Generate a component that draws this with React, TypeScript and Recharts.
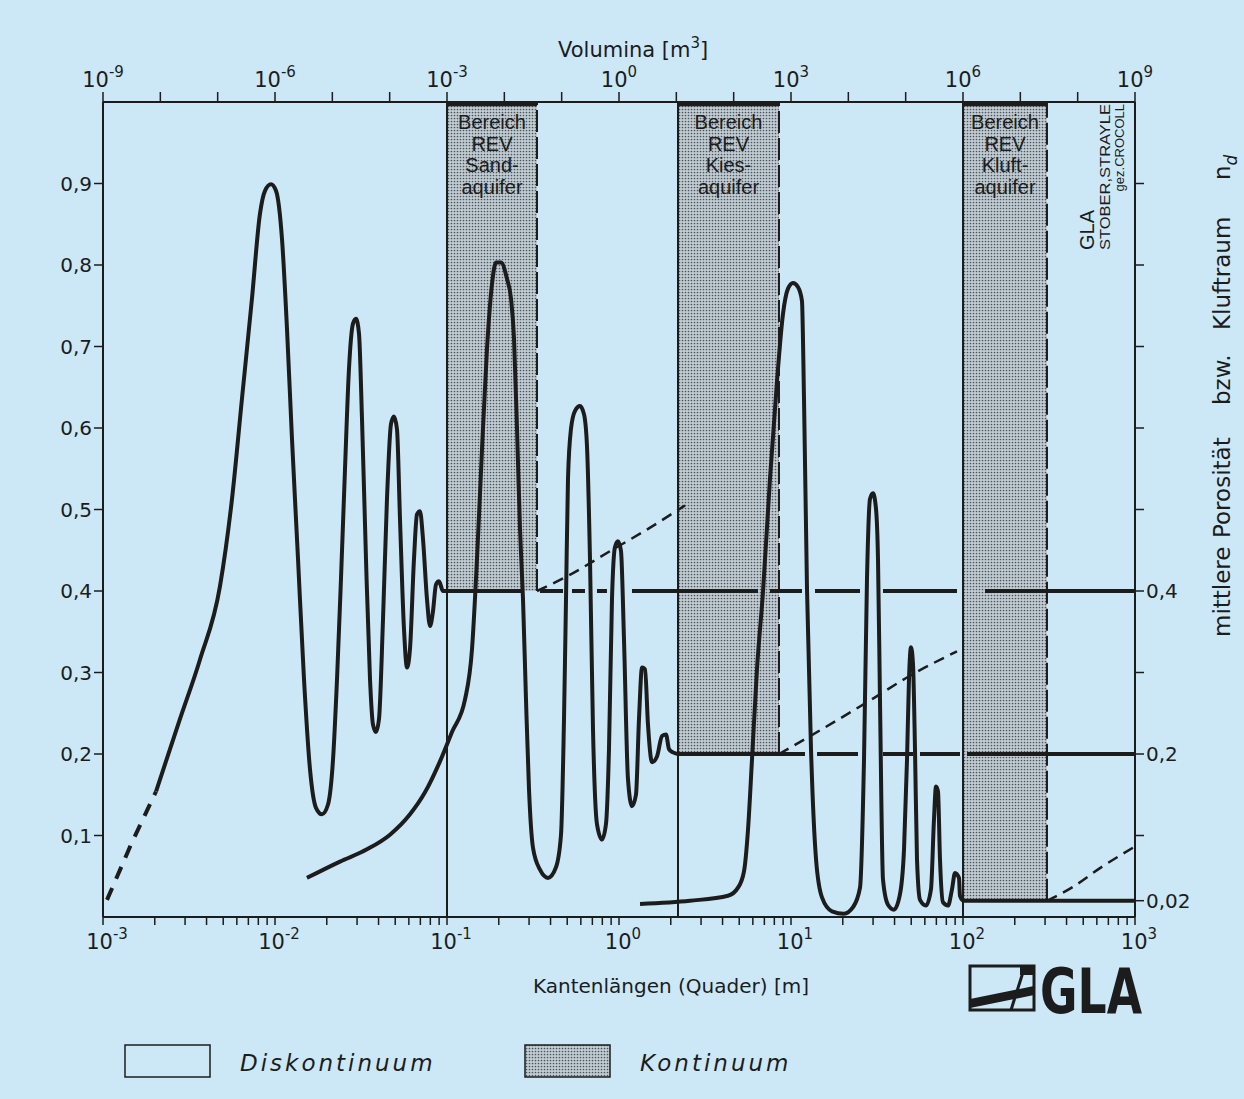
import React from "react";
import { LineChart, Line, XAxis, YAxis, ReferenceArea, ReferenceLine } from "recharts";

const BG = "#cce8f7";
const INK = "#1c1c1c";
const FONT = "'DejaVu Sans', sans-serif";
const NARROW = "'Liberation Sans', 'DejaVu Sans', sans-serif";

// ---- data: Kantenlänge L [m] vs. mittlere Porosität v ----
const leadInDashed = [
  { L: 0.001055, v: 0.021 },
  { L: 0.001455, v: 0.089 },
  { L: 0.002033, v: 0.154 },
];

const sandCurve = [
  { L: 0.002033, v: 0.154 }, { L: 0.002803, v: 0.243 }, { L: 0.003664, v: 0.316 },
  { L: 0.004789, v: 0.406 }, { L: 0.005623, v: 0.513 }, { L: 0.006427, v: 0.636 },
  { L: 0.007348, v: 0.759 }, { L: 0.008179, v: 0.863 }, { L: 0.008745, v: 0.891 },
  { L: 0.009478, v: 0.899 }, { L: 0.010135, v: 0.891 }, { L: 0.01098, v: 0.832 },
  { L: 0.01174, v: 0.722 }, { L: 0.01255, v: 0.587 }, { L: 0.01361, v: 0.439 },
  { L: 0.01474, v: 0.292 }, { L: 0.01598, v: 0.181 }, { L: 0.01731, v: 0.134 },
  { L: 0.01877, v: 0.126 }, { L: 0.02033, v: 0.138 }, { L: 0.02174, v: 0.193 },
  { L: 0.02294, v: 0.292 }, { L: 0.02419, v: 0.415 }, { L: 0.02553, v: 0.55 },
  { L: 0.02693, v: 0.673 }, { L: 0.02841, v: 0.728 }, { L: 0.02957, v: 0.734 },
  { L: 0.03078, v: 0.716 }, { L: 0.03205, v: 0.611 }, { L: 0.03381, v: 0.439 },
  { L: 0.03567, v: 0.292 }, { L: 0.03713, v: 0.236 }, { L: 0.03865, v: 0.227 },
  { L: 0.04024, v: 0.243 }, { L: 0.04245, v: 0.365 }, { L: 0.04478, v: 0.513 },
  { L: 0.04726, v: 0.605 }, { L: 0.04919, v: 0.614 }, { L: 0.05121, v: 0.598 },
  { L: 0.0533, v: 0.488 }, { L: 0.05623, v: 0.353 }, { L: 0.05854, v: 0.306 },
  { L: 0.06093, v: 0.329 }, { L: 0.06427, v: 0.439 }, { L: 0.0669, v: 0.494 },
  { L: 0.06966, v: 0.498 }, { L: 0.07251, v: 0.464 }, { L: 0.07649, v: 0.39 },
  { L: 0.07963, v: 0.357 }, { L: 0.08289, v: 0.375 }, { L: 0.08629, v: 0.408 },
  { L: 0.08983, v: 0.412 }, { L: 0.09476, v: 0.4 }, { L: 0.1, v: 0.4 },
];

const kiesCurve = [
  { L: 0.01534, v: 0.048 }, { L: 0.02387, v: 0.068 }, { L: 0.03426, v: 0.083 },
  { L: 0.04663, v: 0.101 }, { L: 0.06093, v: 0.126 }, { L: 0.07447, v: 0.153 },
  { L: 0.09104, v: 0.191 }, { L: 0.1069, v: 0.227 }, { L: 0.1273, v: 0.267 },
  { L: 0.1398, v: 0.329 }, { L: 0.1494, v: 0.439 }, { L: 0.1598, v: 0.574 },
  { L: 0.1708, v: 0.697 }, { L: 0.1827, v: 0.777 }, { L: 0.1927, v: 0.803 },
  { L: 0.206, v: 0.803 }, { L: 0.2233, v: 0.783 }, { L: 0.2355, v: 0.759 },
  { L: 0.2452, v: 0.71 }, { L: 0.2553, v: 0.599 }, { L: 0.2657, v: 0.476 },
  { L: 0.2766, v: 0.39 }, { L: 0.2879, v: 0.267 }, { L: 0.2997, v: 0.157 },
  { L: 0.3162, v: 0.085 }, { L: 0.3472, v: 0.058 }, { L: 0.3865, v: 0.048 },
  { L: 0.4302, v: 0.061 }, { L: 0.4601, v: 0.101 }, { L: 0.4789, v: 0.243 },
  { L: 0.4919, v: 0.39 }, { L: 0.5052, v: 0.538 }, { L: 0.5259, v: 0.599 },
  { L: 0.5549, v: 0.621 }, { L: 0.5932, v: 0.627 }, { L: 0.6258, v: 0.617 },
  { L: 0.6514, v: 0.578 }, { L: 0.6782, v: 0.439 }, { L: 0.706, v: 0.23 },
  { L: 0.7447, v: 0.114 }, { L: 0.7963, v: 0.095 }, { L: 0.8401, v: 0.114 },
  { L: 0.8745, v: 0.206 }, { L: 0.9104, v: 0.39 }, { L: 0.9478, v: 0.454 },
  { L: 0.9866, v: 0.461 }, { L: 1.027, v: 0.449 }, { L: 1.069, v: 0.341 },
  { L: 1.128, v: 0.169 }, { L: 1.19, v: 0.136 }, { L: 1.255, v: 0.15 },
  { L: 1.307, v: 0.243 }, { L: 1.361, v: 0.306 }, { L: 1.417, v: 0.304 },
  { L: 1.474, v: 0.236 }, { L: 1.556, v: 0.19 }, { L: 1.663, v: 0.197 },
  { L: 1.779, v: 0.222 }, { L: 1.877, v: 0.224 }, { L: 1.953, v: 0.206 },
  { L: 2.06, v: 0.202 }, { L: 2.203, v: 0.2 },
];

const kluftCurve = [
  { L: 1.325, v: 0.016 }, { L: 2.587, v: 0.02 }, { L: 4.302, v: 0.026 },
  { L: 4.919, v: 0.036 }, { L: 5.33, v: 0.056 }, { L: 5.623, v: 0.107 },
  { L: 5.932, v: 0.193 }, { L: 6.342, v: 0.304 }, { L: 6.873, v: 0.399 },
  { L: 7.548, v: 0.538 }, { L: 8.289, v: 0.657 }, { L: 8.983, v: 0.74 },
  { L: 9.605, v: 0.771 }, { L: 10.27, v: 0.778 }, { L: 10.98, v: 0.773 },
  { L: 11.58, v: 0.756 }, { L: 11.9, v: 0.636 }, { L: 12.39, v: 0.402 },
  { L: 13.07, v: 0.206 }, { L: 13.98, v: 0.071 }, { L: 15.14, v: 0.024 },
  { L: 17.31, v: 0.007 }, { L: 20.33, v: 0.004 }, { L: 22.94, v: 0.012 },
  { L: 25.19, v: 0.036 }, { L: 26.57, v: 0.193 }, { L: 27.66, v: 0.415 },
  { L: 28.79, v: 0.513 }, { L: 29.97, v: 0.52 }, { L: 31.2, v: 0.501 },
  { L: 32.05, v: 0.439 }, { L: 32.91, v: 0.267 }, { L: 34.26, v: 0.046 },
  { L: 36.64, v: 0.015 }, { L: 39.7, v: 0.009 }, { L: 43.02, v: 0.028 },
  { L: 45.4, v: 0.083 }, { L: 47.26, v: 0.193 }, { L: 48.53, v: 0.292 },
  { L: 49.85, v: 0.331 }, { L: 51.21, v: 0.31 }, { L: 52.59, v: 0.206 },
  { L: 54.02, v: 0.071 }, { L: 56.23, v: 0.021 }, { L: 60.93, v: 0.014 },
  { L: 65.14, v: 0.034 }, { L: 67.82, v: 0.12 }, { L: 69.66, v: 0.16 },
  { L: 71.55, v: 0.154 }, { L: 73.48, v: 0.071 }, { L: 76.49, v: 0.018 },
  { L: 81.79, v: 0.014 }, { L: 86.29, v: 0.034 }, { L: 89.83, v: 0.054 },
  { L: 94.76, v: 0.048 }, { L: 96.05, v: 0.026 }, { L: 100, v: 0.02 },
];

// dashed trends beyond the REV ranges
const sandTrend = [
  { L: 0.3336, v: 0.4 }, { L: 0.4985, v: 0.418 }, { L: 0.9227, v: 0.451 },
  { L: 1.417, v: 0.474 }, { L: 2.419, v: 0.505 },
];
const kiesTrend = [
  { L: 8.514, v: 0.2 }, { L: 14.74, v: 0.229 }, { L: 29.97, v: 0.268 },
  { L: 49.19, v: 0.296 }, { L: 92.27, v: 0.326 },
];
const kluftTrend = [
  { L: 307.8, v: 0.02 }, { L: 436.0, v: 0.037 }, { L: 625.8, v: 0.06 }, { L: 973.5, v: 0.085 },
];

// REV ranges (Kontinuum)
const regionFrom = [0.1, 2.203, 100];
const regionTo = [0.3336, 8.514, 307.8];
const regionLevel = [0.4, 0.2, 0.02];
const regionVolFrom = [1e-3, 10.69, 1e6];
const regionVolTo = [0.03713, 617.2, 2.916e7];
const regionText = [
  ["Bereich", "REV", "Sand-", "aquifer"],
  ["Bereich", "REV", "Kies-", "aquifer"],
  ["Bereich", "REV", "Kluft-", "aquifer"],
];

// mean porosity levels (drawn with pen breaks)
const level04Segments = [
  [0.1, 0.2729], [0.3472, 0.4726], [0.533, 0.6342], [0.7447, 0.8514], [1.19, 6.427],
  [7.548, 11.58], [13.79, 25.19], [34.26, 92.27], [134.3, 1000],
];
const level02Segments = [[2.203, 12.06], [14.17, 24.52], [34.26, 51.21], [56.23, 96.05], [105.5, 1000]];
const level002Segments = [[100, 1000]];

// axis ticks
const lengthDecades = [0.001, 0.01, 0.1, 1, 10, 100, 1000];
const minorSteps = [2, 3, 4, 5, 6, 7, 8, 9];
const volumeExponents = [-9, -8, -7, -6, -5, -4, -3, -2, -1, 0, 1, 2, 3, 4, 5, 6, 7, 8, 9];
const leftTicks = [0.1, 0.2, 0.3, 0.4, 0.5, 0.6, 0.7, 0.8, 0.9];
const rightTicks = [0.02, 0.1, 0.2, 0.3, 0.4, 0.5, 0.6, 0.7, 0.8, 0.9];
const rightTickLabels = ["0,02", "", "0,2", "", "0,4", "", "", "", "", ""];

const lengthTicks = [
  ...lengthDecades.slice(0, 6).flatMap((d) => [d, ...minorSteps.map((m) => d * m)]),
  1000,
];
const volumeTicks = volumeExponents.map((k) => Math.pow(10, k));

const levelData = (segs: number[][], lvl: number) =>
  segs.flatMap(([a, b]) => [{ L: a, v: lvl }, { L: b, v: lvl }, { L: b, v: null }]);

const PowerTick = (props: any) => {
  const { x, y, payload, side } = props;
  const lg = Math.log10(payload.value);
  const exp = Math.round(lg);
  const isDecade = Math.abs(lg - exp) < 1e-6;
  const show = side === "top" ? exp % 3 === 0 : isDecade;
  if (!show) return <g />;
  const by = side === "top" ? y - 3 : y + 22;
  const bx = side === "top" ? x : x + 4;
  return (
    <text x={bx} y={by} textAnchor="middle" fill={INK} fontFamily={FONT} fontSize={21}>
      10
      <tspan dy={-10} fontSize={15}>{String(exp)}</tspan>
    </text>
  );
};

const RegionLabel = (props: any) => {
  const { viewBox, lines } = props;
  if (!viewBox) return null;
  const cx = viewBox.x + viewBox.width / 2;
  return (
    <text textAnchor="middle" fill={INK} fontFamily={NARROW} fontSize={20}>
      {lines.map((t: string, i: number) => (
        <tspan key={i} x={cx} y={viewBox.y + 27 + i * 21.5}>{t}</tspan>
      ))}
    </text>
  );
};

const axisLine = { stroke: INK, strokeWidth: 2 };
const tickLine = { stroke: INK, strokeWidth: 1.5 };

export default function App() {
  return (
    <div style={{ position: "absolute", left: 0, top: 0, width: 1244, height: 1099, background: BG, overflow: "hidden" }}>
      <svg width={0} height={0} style={{ position: "absolute" }}>
        <defs>
          <pattern id="kontinuum" width="3" height="3" patternUnits="userSpaceOnUse">
            <rect width="3" height="3" fill="#c1ccd3" />
            <circle cx="1.5" cy="1.5" r="0.85" fill="#4a555e" />
          </pattern>
        </defs>
      </svg>
      <LineChart width={1244} height={1099} margin={{ top: 62, right: 49, bottom: 142, left: 43 }}>
        <XAxis
          xAxisId="len" dataKey="L" type="number" scale="log" domain={[0.001, 1000]}
          allowDataOverflow ticks={lengthTicks} interval={0} tickSize={8} height={40}
          axisLine={axisLine} tickLine={tickLine}
          tick={(p: any) => <PowerTick {...p} side="bottom" />}
        />
        <XAxis
          xAxisId="vol" orientation="top" dataKey="V" type="number" scale="log" domain={[1e-9, 1e9]}
          allowDataOverflow ticks={volumeTicks} interval={0} tickSize={10} height={40}
          axisLine={axisLine} tickLine={tickLine}
          tick={(p: any) => <PowerTick {...p} side="top" />}
        />
        <YAxis
          yAxisId="p" type="number" domain={[0, 1]} ticks={leftTicks} interval={0} tickSize={9} width={60}
          axisLine={axisLine} tickLine={tickLine}
          tick={{ fill: INK, fontSize: 20, fontFamily: FONT }}
          tickFormatter={(v: number) => v.toFixed(1).replace(".", ",")}
        />
        <YAxis
          yAxisId="r" orientation="right" type="number" domain={[0, 1]} ticks={rightTicks} interval={0}
          tickSize={9} width={60} axisLine={axisLine} tickLine={tickLine}
          tick={{ fill: INK, fontSize: 20, fontFamily: FONT }}
          tickFormatter={(_v: number, i: number) => rightTickLabels[i]}
        />

        {regionFrom.map((from, i) => (
          <ReferenceArea
            key={"area" + i} xAxisId="len" yAxisId="p" x1={from} x2={regionTo[i]} y1={regionLevel[i]} y2={1}
            fill="url(#kontinuum)" fillOpacity={1} stroke="none" ifOverflow="visible"
            label={<RegionLabel lines={regionText[i]} />}
          />
        ))}
        {regionFrom.map((from, i) => (
          <ReferenceLine key={"lft" + i} xAxisId="len" yAxisId="p" x={from} stroke={INK} strokeWidth={2} />
        ))}
        {regionTo.map((to, i) => (
          <ReferenceLine
            key={"rgt" + i} xAxisId="len" yAxisId="p"
            segment={[{ x: to, y: regionLevel[i] }, { x: to, y: 1 }]}
            stroke={INK} strokeWidth={2} strokeDasharray="22 5"
          />
        ))}

        {regionVolFrom.map((vf, i) => (
          <Line
            key={"bar" + i} xAxisId="vol" yAxisId="p" dataKey="v" type="linear"
            data={[{ V: vf, v: 0.998 }, { V: regionVolTo[i], v: 0.998 }]}
            stroke={INK} strokeWidth={5} dot={false} activeDot={false} isAnimationActive={false}
          />
        ))}

        <Line xAxisId="len" yAxisId="r" dataKey="v" type="linear" data={levelData(level04Segments, 0.4)}
          stroke={INK} strokeWidth={4} dot={false} activeDot={false} isAnimationActive={false} connectNulls={false} />
        <Line xAxisId="len" yAxisId="r" dataKey="v" type="linear" data={levelData(level02Segments, 0.2)}
          stroke={INK} strokeWidth={4} dot={false} activeDot={false} isAnimationActive={false} connectNulls={false} />
        <Line xAxisId="len" yAxisId="r" dataKey="v" type="linear" data={levelData(level002Segments, 0.02)}
          stroke={INK} strokeWidth={4} dot={false} activeDot={false} isAnimationActive={false} connectNulls={false} />

        <Line xAxisId="len" yAxisId="p" dataKey="v" type="monotone" data={sandTrend}
          stroke={INK} strokeWidth={2.5} strokeDasharray="11 7" dot={false} activeDot={false} isAnimationActive={false} />
        <Line xAxisId="len" yAxisId="p" dataKey="v" type="monotone" data={kiesTrend}
          stroke={INK} strokeWidth={2.5} strokeDasharray="11 7" dot={false} activeDot={false} isAnimationActive={false} />
        <Line xAxisId="len" yAxisId="p" dataKey="v" type="monotone" data={kluftTrend}
          stroke={INK} strokeWidth={2.5} strokeDasharray="11 7" dot={false} activeDot={false} isAnimationActive={false} />

        <Line xAxisId="len" yAxisId="p" dataKey="v" type="linear" data={leadInDashed}
          stroke={INK} strokeWidth={4} strokeDasharray="13 10" dot={false} activeDot={false} isAnimationActive={false} />
        <Line xAxisId="len" yAxisId="p" dataKey="v" type="monotone" data={sandCurve}
          stroke={INK} strokeWidth={4} dot={false} activeDot={false} isAnimationActive={false} />
        <Line xAxisId="len" yAxisId="p" dataKey="v" type="monotone" data={kiesCurve}
          stroke={INK} strokeWidth={4} dot={false} activeDot={false} isAnimationActive={false} />
        <Line xAxisId="len" yAxisId="p" dataKey="v" type="monotone" data={kluftCurve}
          stroke={INK} strokeWidth={4} dot={false} activeDot={false} isAnimationActive={false} />
      </LineChart>

      <svg width={1244} height={1099} style={{ position: "absolute", left: 0, top: 0, pointerEvents: "none" }}>
        <text x={558} y={57} fill={INK} fontFamily={FONT} fontSize={21}>
          Volumina [m<tspan dy={-9} fontSize={15}>3</tspan><tspan dy={9}>]</tspan>
        </text>
        <text x={533} y={993} fill={INK} fontFamily={FONT} fontSize={20}>Kantenlängen (Quader) [m]</text>

        <g transform="translate(1230,637) rotate(-90)" fill={INK} fontFamily={FONT} fontSize={23}>
          <text x={0} y={0}>mittlere</text>
          <text x={99} y={0}>Porosität</text>
          <text x={232} y={0}>bzw.</text>
          <text x={307} y={0}>Kluftraum</text>
          <text x={457} y={0}>n<tspan dy={7} fontSize={17} fontStyle="italic">d</tspan></text>
        </g>

        <g fill={INK} fontFamily={NARROW}>
          <text transform="translate(1094,250) rotate(-90)" fontSize={20}>GLA</text>
          <text transform="translate(1110,250) rotate(-90)" fontSize={14} textLength={146} lengthAdjust="spacingAndGlyphs">STOBER,STRAYLE</text>
          <text transform="translate(1124,104) rotate(-90)" fontSize={13} textAnchor="end">gez.CROCOLL</text>
        </g>

        <g>
          <rect x={970} y={966} width={64} height={44} fill="none" stroke={INK} strokeWidth={3} />
          <polygon points="970,999 1034,986 1034,995 970,1008" fill={INK} />
          <line x1={1011} y1={1010} x2={1025} y2={966} stroke={INK} strokeWidth={3} />
          <rect x={1020} y={966} width={14} height={9} fill={INK} />
          <text x={1040} y={1013} fill={INK} fontFamily={FONT} fontWeight={900} fontSize={62}
            textLength={102} lengthAdjust="spacingAndGlyphs">GLA</text>
        </g>

        <rect x={125} y={1045} width={85} height={32} fill="none" stroke={INK} strokeWidth={1.5} />
        <text x={240} y={1071} fill={INK} fontFamily={FONT} fontStyle="italic" fontSize={23} letterSpacing={3}>Diskontinuum</text>
        <rect x={525} y={1045} width={85} height={32} fill="url(#kontinuum)" stroke={INK} strokeWidth={1.5} />
        <text x={640} y={1071} fill={INK} fontFamily={FONT} fontStyle="italic" fontSize={23} letterSpacing={3}>Kontinuum</text>
      </svg>
    </div>
  );
}
